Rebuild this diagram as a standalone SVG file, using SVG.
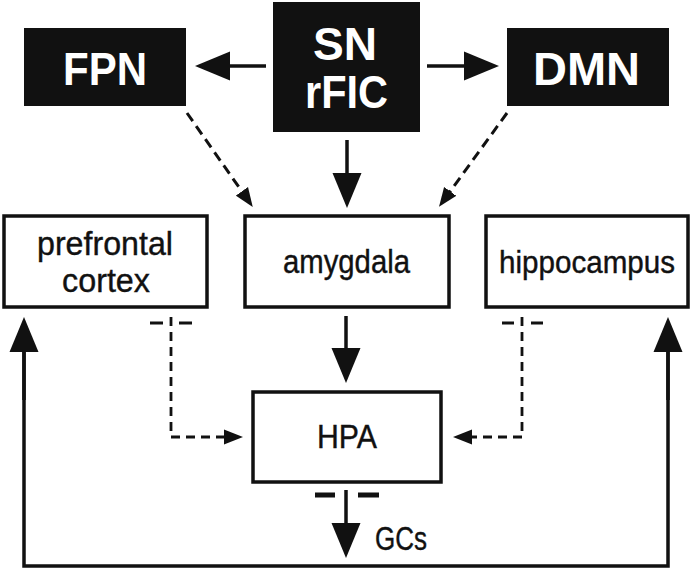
<svg xmlns="http://www.w3.org/2000/svg" width="693" height="570" viewBox="0 0 693 570">
<style>
.dark{fill:#111;stroke:none}
.box{fill:#fff;stroke:#111;stroke-width:3.5}
.bt{font-family:"Liberation Sans Narrow","Liberation Sans",Arial,sans-serif;font-weight:bold;fill:#fff;text-anchor:middle;font-size:46px}
.t{font-family:"Liberation Sans Narrow","Liberation Sans",Arial,sans-serif;fill:#111;text-anchor:middle;font-size:33px;stroke:#111;stroke-width:0.4}
.solid{fill:none;stroke:#111;stroke-width:3.5}
.dash{fill:none;stroke:#111;stroke-width:2.8;stroke-dasharray:9 6}
.ddash{fill:none;stroke:#111;stroke-width:3;stroke-dasharray:10 6}
.bar{fill:none;stroke:#111;stroke-width:3}
.tbar{fill:none;stroke:#111;stroke-width:5}
</style>
<defs>
<marker id="big" markerUnits="userSpaceOnUse" viewBox="0 0 36 30" markerWidth="36" markerHeight="30" refX="2" refY="15" orient="auto">
<path d="M0,0.5 L35,15 L0,29.5 z" fill="#111"/>
</marker>
<marker id="small" markerUnits="userSpaceOnUse" viewBox="0 0 20 16" markerWidth="20" markerHeight="16" refX="2" refY="8" orient="auto">
<path d="M0,0.5 L19,8 L0,15.5 z" fill="#111"/>
</marker>
</defs>
<rect width="693" height="570" fill="#fff"/>
<g id="FPN"><rect class="dark" x="24" y="28" width="162" height="78"/><text class="bt" x="105" y="85" textLength="84" lengthAdjust="spacingAndGlyphs">FPN</text></g>
<g id="SN"><rect class="dark" x="273" y="2" width="147" height="130"/><text class="bt" x="345" y="60" textLength="64" lengthAdjust="spacingAndGlyphs">SN</text><text class="bt" x="346.5" y="108" textLength="83" lengthAdjust="spacingAndGlyphs">rFIC</text></g>
<g id="DMN"><rect class="dark" x="507" y="28" width="162" height="78"/><text class="bt" x="586.5" y="85" textLength="107" lengthAdjust="spacingAndGlyphs">DMN</text></g>
<g id="prefrontal"><rect class="box" x="4" y="216" width="203" height="91"/><text class="t" x="105" y="255" textLength="136" lengthAdjust="spacingAndGlyphs">prefrontal</text><text class="t" x="106" y="292" textLength="88" lengthAdjust="spacingAndGlyphs">cortex</text></g>
<g id="amygdala"><rect class="box" x="245" y="216" width="204" height="91"/><text class="t" x="346.5" y="273" textLength="127" lengthAdjust="spacingAndGlyphs">amygdala</text></g>
<g id="hippocampus"><rect class="box" x="486" y="216" width="202" height="91"/><text class="t" x="587" y="273" style="font-size:31px" textLength="176" lengthAdjust="spacingAndGlyphs">hippocampus</text></g>
<g id="HPA"><rect class="box" x="253" y="392" width="188" height="90"/><text class="t" x="347" y="448" textLength="60" lengthAdjust="spacingAndGlyphs">HPA</text></g>
<g id="GCs"><text class="t" x="401" y="550" textLength="52" lengthAdjust="spacingAndGlyphs">GCs</text></g>
<g id="connectors">
<line class="solid" x1="266" y1="66" x2="228" y2="66" marker-end="url(#big)"/>
<line class="solid" x1="427" y1="66" x2="466" y2="66" marker-end="url(#big)"/>
<line class="solid" x1="347" y1="140" x2="347" y2="175" marker-end="url(#big)"/>
<line class="solid" x1="346" y1="316" x2="346" y2="350" marker-end="url(#big)"/>
<line class="ddash" x1="187" y1="113" x2="243" y2="193" marker-end="url(#small)"/>
<line class="ddash" x1="507" y1="113" x2="449" y2="193" marker-end="url(#small)"/>
<path class="dash" d="M171,317 V437 H226" marker-end="url(#small)"/>
<path class="bar" d="M150,323 H163 M179,323 H192"/>
<path class="dash" d="M522,317 V437 H470" marker-end="url(#small)"/>
<path class="bar" d="M502,323 H514 M531,323 H543"/>
<line class="solid" x1="346" y1="490" x2="346" y2="525" marker-end="url(#big)"/>
<path class="tbar" d="M315,495 H335 M358,495 H379"/>
<path class="solid" d="M24,351 V566 H668 V350"/>
<line class="solid" x1="24" y1="400" x2="24" y2="350" marker-end="url(#big)"/>
<line class="solid" x1="668" y1="400" x2="668" y2="350" marker-end="url(#big)"/>
</g>
</svg>
